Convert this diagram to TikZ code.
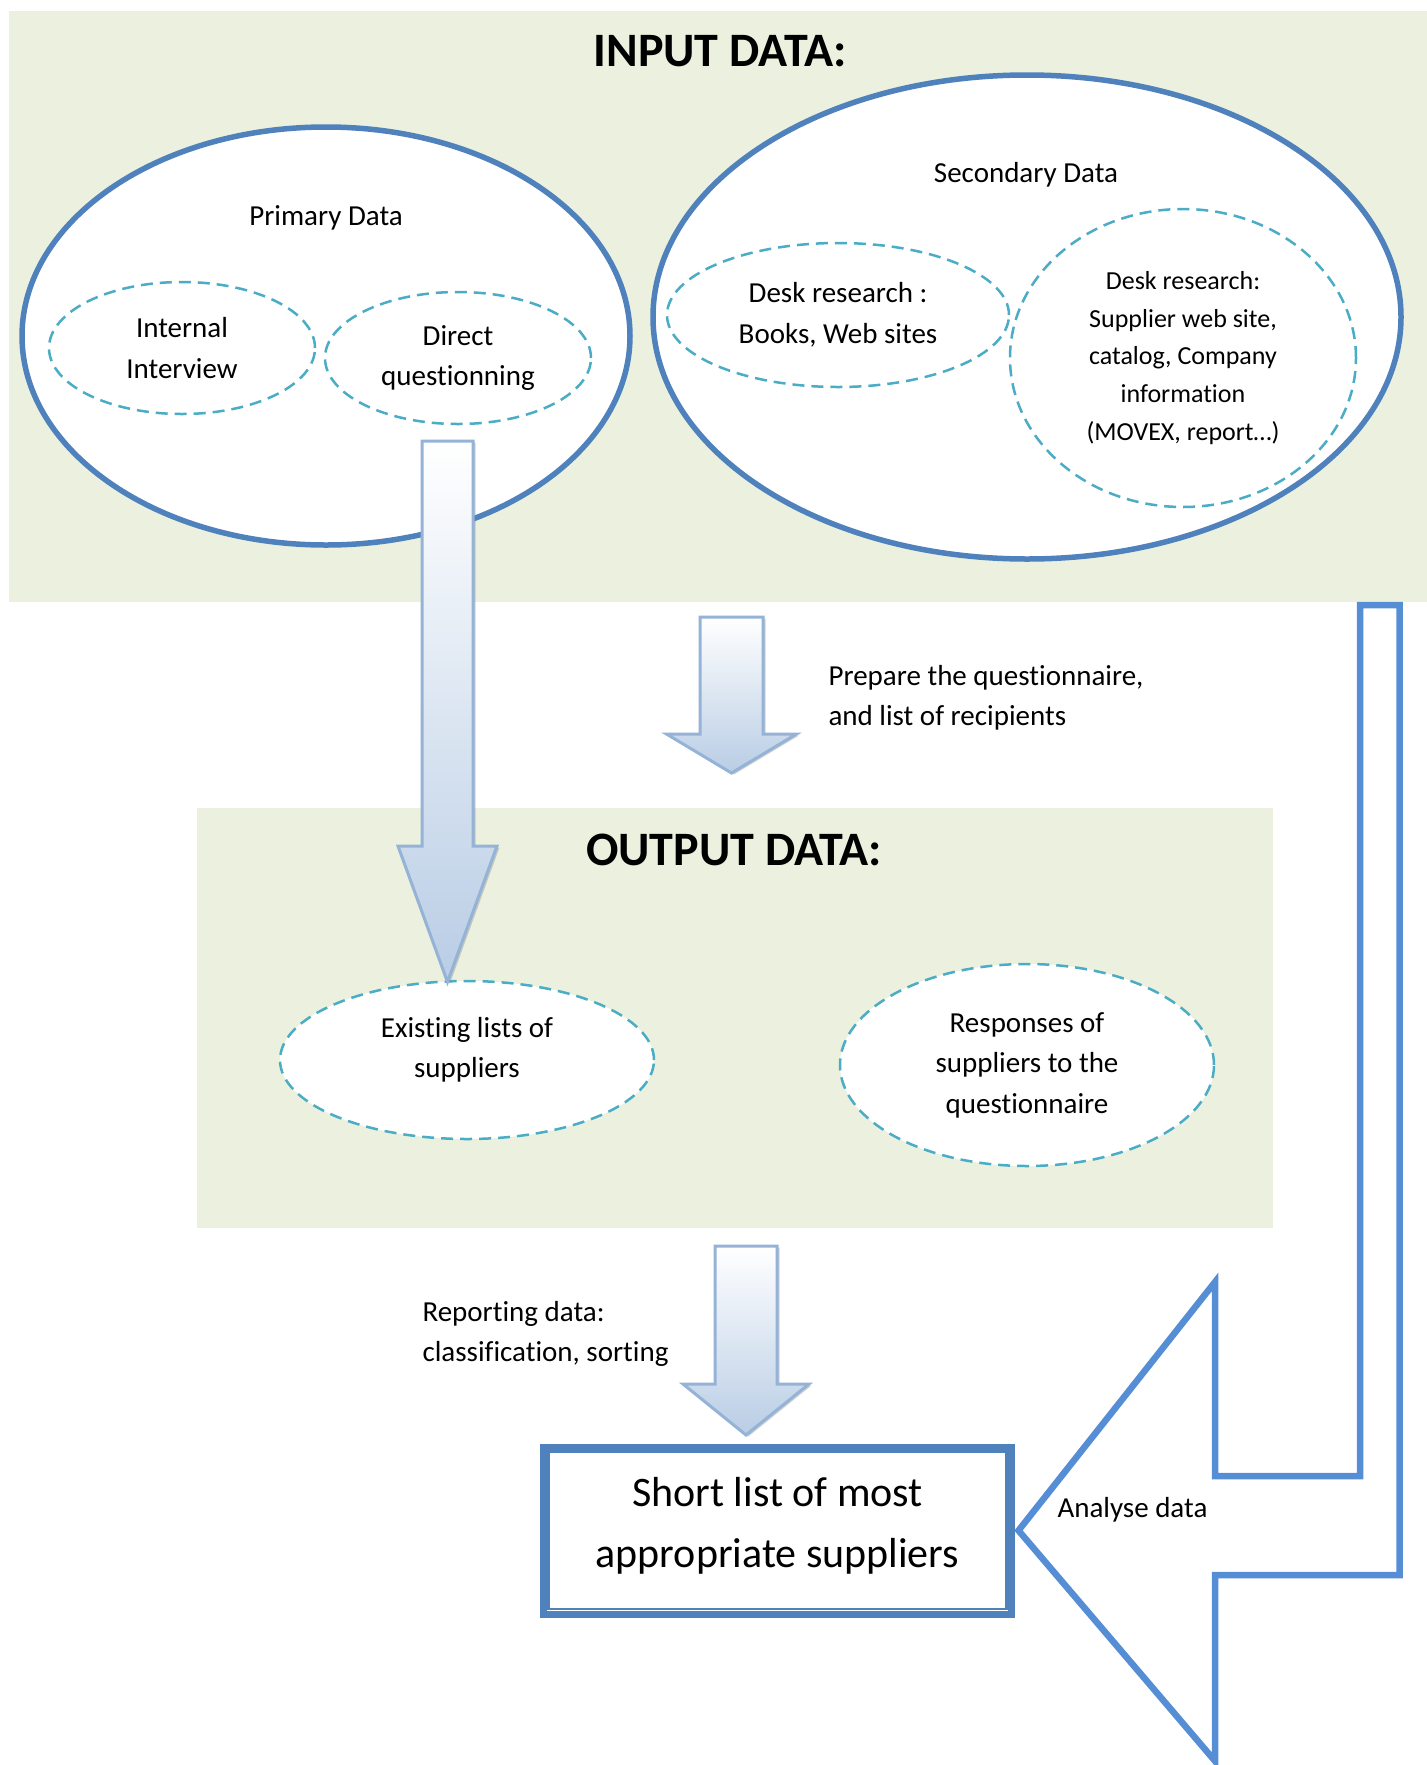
\documentclass[tikz,border=0pt]{standalone}
\usepackage{fontspec}
\setmainfont{Carlito}[Ligatures=NoCommon, Contextuals=NoAlternate]
\usepackage{tikz}
\usetikzlibrary{positioning}
\usetikzlibrary{shapes.geometric}
\usetikzlibrary{shadows}
\definecolor{panelgreen}{RGB}{235,241,222}
\definecolor{ringblue}{RGB}{79,129,189}
\definecolor{dashteal}{RGB}{75,172,198}
\definecolor{arrowedge}{RGB}{149,179,215}
\definecolor{arrowfill}{RGB}{185,205,229}
\definecolor{outlineblue}{RGB}{85,142,213}
\tikzstyle{panel} = [fill=panelgreen, draw=none]
\tikzstyle{ring} = [ellipse, draw=ringblue, line width=5.5pt, fill=white, inner sep=0pt]
\tikzstyle{subset} = [ellipse, draw=dashteal, line width=2.5pt, dash pattern=on 12pt off 7pt,
    fill=white, inner sep=0pt, align=center, font=\fontsize{29}{40.5}\selectfont]
\tikzstyle{txt} = [align=left, font=\fontsize{29}{40.5}\selectfont]
\tikzstyle{heading} = [font=\fontsize{48}{58}\selectfont\bfseries]
\tikzstyle{fatarrow} = [draw=arrowedge, line width=3pt, line join=miter, top color=white,
    bottom color=arrowfill, drop shadow={shadow xshift=2.5pt, shadow yshift=-1.5pt, opacity=.35}]
\tikzstyle{bentarrow} = [draw=outlineblue, line width=6.5pt, line join=miter]
\tikzstyle{shortbox} = [rectangle, draw=ringblue, line width=7pt, fill=white,
    minimum width=468pt, minimum height=167pt]
% block arrow pointing down: centre x, half shaft, half head, top, head base, tip
\newcommand{\fatdown}[6]{%
  \draw[fatarrow] (#1-#2,#4) -- (#1+#2,#4) -- (#1+#2,#5) -- (#1+#3,#5)
    -- (#1,#6) -- (#1-#3,#5) -- (#1-#2,#5) -- cycle;}

\begin{document}
\begin{tikzpicture}[x=1pt, y=-1pt]
  \useasboundingbox (0,0) rectangle (1427,1765);

  \path [panel] (9,11) rectangle (1427,602);
  \path [panel] (197,808) rectangle (1273,1228);

  \node [heading] (intitle) at (720,51) {INPUT DATA:};
  \node [heading] (outtitle) at (734,850) {OUTPUT DATA:};

  \node [ring, minimum width=608pt, minimum height=418pt] (primary) at (326,336) {};
  \node [ring, minimum width=748pt, minimum height=484pt] (secondary) at (1027,317) {};
  \node [txt] (primlbl) at (326,218) {Primary Data};
  \node [txt] (seclbl) at (1026,175) {Secondary Data};

  \node [subset, minimum width=266pt, minimum height=132pt] (intv) at (182,348)
    {Internal\\Interview};
  \node [subset, minimum width=266pt, minimum height=132pt] (direct) at (458,358)
    {Direct\\questionning};
  \node [subset, minimum width=342pt, minimum height=144pt] (books) at (838,315)
    {Desk research :\\Books, Web sites};
  \node [subset, minimum width=346pt, minimum height=298pt,
    font=\fontsize{26}{37.7}\selectfont] (webinfo) at (1183,358)
    {Desk research:\\Supplier web site,\\catalog, Company\\information\\(MOVEX, report\dots)};

  \node [subset, minimum width=374pt, minimum height=158pt] (exist) at (467,1060) {};
  \node [txt, align=center] (existlbl) at ([yshift=10pt]exist.center)
    {Existing lists of\\suppliers};
  \node [subset, minimum width=374pt, minimum height=202pt] (resp) at (1027,1065)
    {Responses of\\suppliers to the\\questionnaire};

  % block arrows
  \fatdown{447.5}{25.5}{49.5}{441}{846}{982}
  \fatdown{731.5}{31.5}{65}{617}{734}{773}
  \fatdown{746}{31}{63}{1246}{1384}{1435}

  \node [txt, anchor=west] (prep) at (825,698)
    {Prepare the questionnaire,\\and list of recipients};
  \node [txt, anchor=west] (report) at (419,1334)
    {Reporting data:\\classification, sorting};

  \node [shortbox] (short) at (777.5,1530.5) {};
  \draw [ringblue, line width=2.2pt] ([xshift=8.5pt,yshift=-8.5pt]short.north west)
    rectangle ([xshift=-8.5pt,yshift=8.5pt]short.south east);
  \node [font=\fontsize{42}{61}\selectfont, align=center] (shortlbl)
    at ([yshift=5pt]short.center) {Short list of most\\appropriate suppliers};

  \draw [bentarrow] ([xshift=3.5pt]short.east) -- (1215,1282) -- (1215,1476)
    -- (1360,1476) -- (1360,605) -- (1399.5,605) -- (1399.5,1575)
    -- (1215,1575) -- (1215,1761) -- cycle;
  \node [txt, anchor=west] (analyse) at (1054,1510) {Analyse data};

\end{tikzpicture}
\end{document}
